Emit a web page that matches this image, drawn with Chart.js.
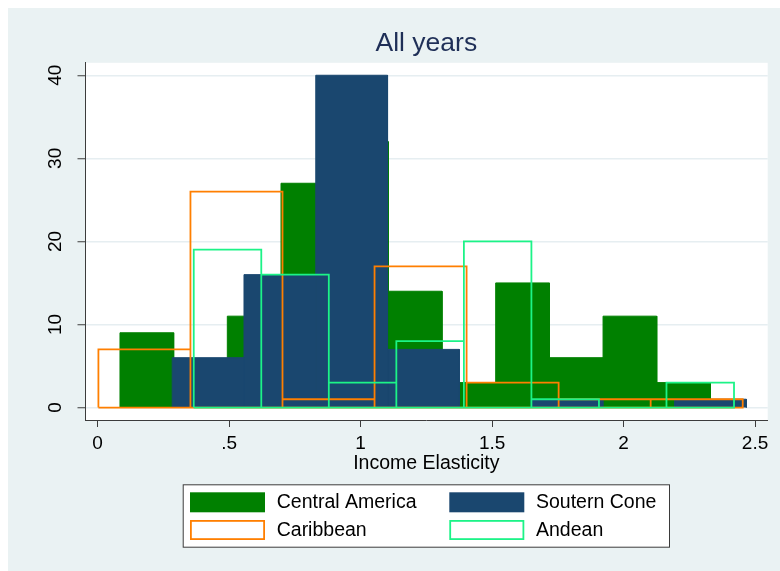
<!DOCTYPE html>
<html>
<head>
<meta charset="utf-8">
<script src="https://cdn.jsdelivr.net/npm/chart.js@4/dist/chart.umd.min.js"></script>
<style>
  html, body { margin: 0; padding: 0; background: #ffffff; }
  canvas { display: block; }
</style>
</head>
<body>
<canvas id="hist" width="780" height="571"></canvas>
<script>
// counts per bin, each region has its own bin start and width
const centralAmerica = [9, 5, 11, 27, 32, 14, 3, 15, 6, 11, 3];
const southernCone   = [6, 16, 40, 7, 0, 1, 0, 1];
const caribbean      = [7, 26, 1, 17, 3, 1, 1];
const andean         = [19, 16, 3, 8, 20, 1, 0, 3];

const centralBins  = { start: 0.085,  width: 0.2041 };
const southernBins = { start: 0.2837, width: 0.2729 };
const caribBins    = { start: 0.003,  width: 0.35 };
const andeanBins   = { start: 0.3655, width: 0.2568 };

const xTicks = [0, 0.5, 1, 1.5, 2, 2.5];
const yTicks = [0, 10, 20, 30, 40];

const FONT = '"Liberation Sans", Arial, sans-serif';
const GRAPH_BG = '#eaf2f3';

// every bar as up, across, down; outlined series also run back along the baseline
function histPath(bins, counts, closeBase) {
  const pts = [];
  counts.forEach((c, i) => {
    const x0 = bins.start + i * bins.width;
    const x1 = x0 + bins.width;
    pts.push({ x: x0, y: 0 }, { x: x0, y: c }, { x: x1, y: c }, { x: x1, y: 0 });
  });
  if (closeBase) pts.push({ x: bins.start, y: 0 });
  return pts;
}

const background = {
  id: 'background',
  beforeDraw(chart) {
    const { ctx, width, height, chartArea: a } = chart;
    ctx.save();
    ctx.fillStyle = '#ffffff';
    ctx.fillRect(0, 0, width, height);
    ctx.fillStyle = GRAPH_BG;
    ctx.fillRect(8, 8, width - 8, height - 8);
    ctx.fillStyle = '#ffffff';
    ctx.fillRect(a.left, a.top, a.right - a.left, a.bottom - a.top);
    ctx.restore();
  }
};

// two-column legend box under the axis title
const boxLegend = {
  id: 'boxLegend',
  afterDraw(chart) {
    const { ctx, chartArea: a } = chart;
    const w = 487.3, h = 63.4;
    const left = (a.left + a.right) / 2 - w / 2;
    const top = a.bottom + 64.3;
    ctx.save();
    ctx.fillStyle = '#ffffff';
    ctx.fillRect(left, top, w, h);
    ctx.strokeStyle = '#3a3a3a';
    ctx.lineWidth = 1;
    ctx.strokeRect(left + 0.5, top + 0.5, w - 1, h - 1);

    const cols = [7.3, 266.6];
    const rows = [8, 35.7];
    ctx.font = '19.5px ' + FONT;
    ctx.textBaseline = 'middle';
    ctx.textAlign = 'left';
    chart.data.datasets.forEach((ds, i) => {
      const sx = left + cols[i % 2];
      const sy = top + rows[Math.floor(i / 2)];
      if (ds.fill) {
        ctx.fillStyle = ds.backgroundColor;
        ctx.fillRect(sx, sy, 75, 20);
      } else {
        ctx.strokeStyle = ds.borderColor;
        ctx.lineWidth = 1.8;
        ctx.strokeRect(sx + 0.9, sy + 0.9, 75 - 1.8, 20 - 1.8);
      }
      ctx.fillStyle = '#000000';
      ctx.fillText(ds.label, sx + 86.7, sy + 10.5);
    });
    ctx.restore();
  }
};

new Chart(document.getElementById('hist'), {
  type: 'line',
  data: {
    datasets: [
      {
        label: 'Central America',
        data: histPath(centralBins, centralAmerica, false),
        borderColor: '#008000',
        backgroundColor: '#008000',
        borderWidth: 1,
        fill: 'origin',
        order: 4
      },
      {
        label: 'Soutern Cone',
        data: histPath(southernBins, southernCone, false),
        borderColor: '#1a476f',
        backgroundColor: '#1a476f',
        borderWidth: 1,
        fill: 'origin',
        order: 3
      },
      {
        label: 'Caribbean',
        data: histPath(caribBins, caribbean, true),
        borderColor: '#ff7f00',
        backgroundColor: 'transparent',
        borderWidth: 1.8,
        fill: false,
        order: 2
      },
      {
        label: 'Andean',
        data: histPath(andeanBins, andean, true),
        borderColor: '#1cf387',
        backgroundColor: 'transparent',
        borderWidth: 1.8,
        fill: false,
        order: 1
      }
    ]
  },
  options: {
    responsive: false,
    animation: false,
    elements: {
      point: { radius: 0, hoverRadius: 0 },
      line: { tension: 0, borderJoinStyle: 'miter' }
    },
    layout: { padding: { left: 0, top: 0, right: 12.3, bottom: 96 } },
    plugins: {
      legend: { display: false },
      tooltip: { enabled: false },
      title: {
        display: true,
        fullSize: false,
        text: 'All years',
        color: '#1f2f57',
        font: { family: FONT, size: 26.5, weight: 'normal' },
        padding: { top: 28, bottom: 3 }
      }
    },
    scales: {
      x: {
        type: 'linear',
        min: -0.048,
        max: 2.548,
        afterBuildTicks: s => { s.ticks = xTicks.map(v => ({ value: v })); },
        afterFit: s => { s.height = 55; },
        ticks: {
          color: '#000000',
          font: { family: FONT, size: 19 },
          padding: 5,
          maxRotation: 0,
          callback: v => String(v).replace(/^0\./, '.')
        },
        grid: {
          drawOnChartArea: false,
          tickLength: 7,
          tickColor: '#3c3c3c',
          tickWidth: 1
        },
        border: { display: true, color: '#3c3c3c', width: 1 },
        title: {
          display: true,
          text: 'Income Elasticity',
          color: '#000000',
          font: { family: FONT, size: 19.5 },
          padding: { top: 0, bottom: 0 }
        }
      },
      y: {
        type: 'linear',
        min: -1.5,
        max: 41.5,
        afterBuildTicks: s => { s.ticks = yTicks.map(v => ({ value: v })); },
        afterFit: s => { s.width = 85; },
        ticks: {
          color: '#000000',
          font: { family: FONT, size: 19 },
          padding: 11,
          minRotation: 90,
          maxRotation: 90,
          crossAlign: 'center'
        },
        grid: {
          color: '#e6eef1',
          lineWidth: 1.5,
          tickLength: 7.5,
          tickColor: '#3c3c3c',
          tickWidth: 1
        },
        border: { display: true, color: '#3c3c3c', width: 1 }
      }
    }
  },
  plugins: [background, boxLegend]
});
</script>
</body>
</html>
